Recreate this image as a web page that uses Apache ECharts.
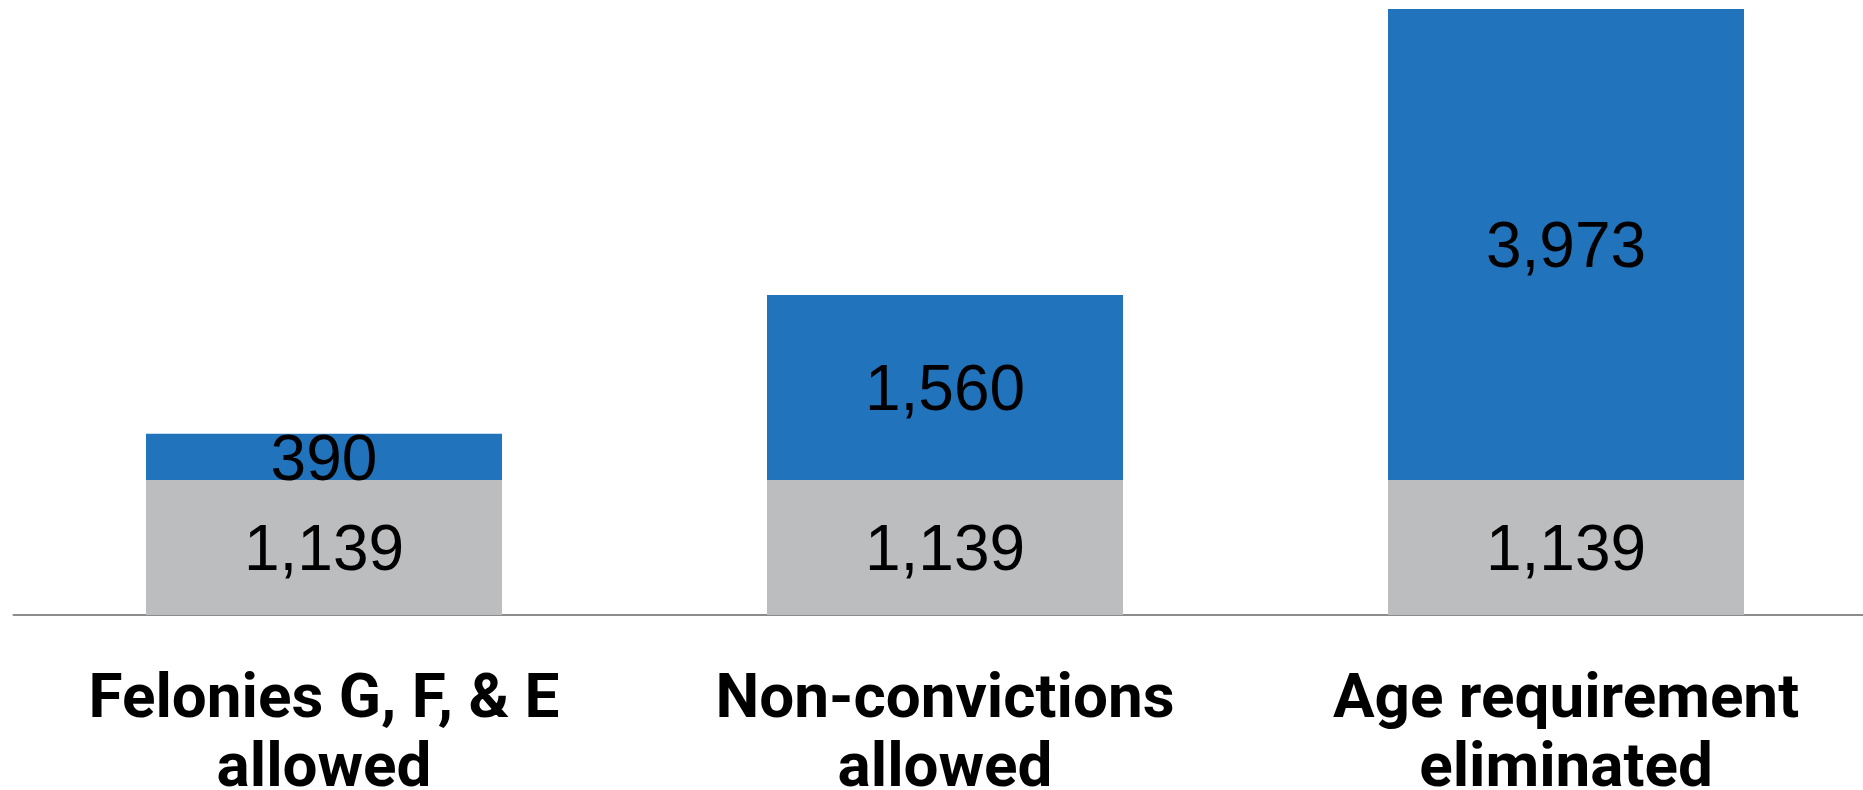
<!DOCTYPE html>
<html>
<head>
<meta charset="utf-8">
<script src="https://cdn.jsdelivr.net/npm/echarts@6/dist/echarts.min.js"></script>
<style>
html,body{margin:0;padding:0;background:#fff;}
#chart{width:1863px;height:790px;}
</style>
</head>
<body>
<div id="chart"></div>
<script>
const categories = ['Felonies G, F, & E\nallowed', 'Non-convictions\nallowed', 'Age requirement\neliminated'];
const baseValues = [1139, 1139, 1139];
const addedValues = [390, 1560, 3973];

const chart = echarts.init(document.getElementById('chart'), null, {renderer: 'canvas'});
const valueLabel = {
  show: true,
  position: 'inside',
  offset: [0, 5],
  color: '#000',
  fontFamily: '"Liberation Sans", Arial, sans-serif',
  fontSize: 64,
  fontWeight: 'normal',
  formatter: p => p.value.toLocaleString('en-US')
};
chart.setOption({
  animation: false,
  backgroundColor: '#ffffff',
  grid: {left: 13.5, right: -13.5, top: 9, bottom: 175, containLabel: false, outerBoundsMode: 'none'},
  xAxis: {
    type: 'category',
    data: categories,
    axisLine: {show: true, lineStyle: {color: '#8c8c8c', width: 2}},
    axisTick: {show: false},
    axisLabel: {
      color: '#000',
      fontFamily: 'Roboto, sans-serif',
      fontWeight: 'bold',
      fontSize: 62,
      lineHeight: 69,
      margin: 52,
      interval: 0
    }
  },
  yAxis: {
    type: 'value',
    min: 0,
    max: 5112,
    show: false,
    splitLine: {show: false}
  },
  series: [
    {
      name: 'Base',
      type: 'bar',
      stack: 'total',
      data: baseValues,
      barWidth: 356,
      itemStyle: {color: '#bcbdbf'},
      label: valueLabel
    },
    {
      name: 'Added',
      type: 'bar',
      stack: 'total',
      data: addedValues,
      barWidth: 356,
      itemStyle: {color: '#2174bb'},
      label: valueLabel
    }
  ]
});
</script>
</body>
</html>
